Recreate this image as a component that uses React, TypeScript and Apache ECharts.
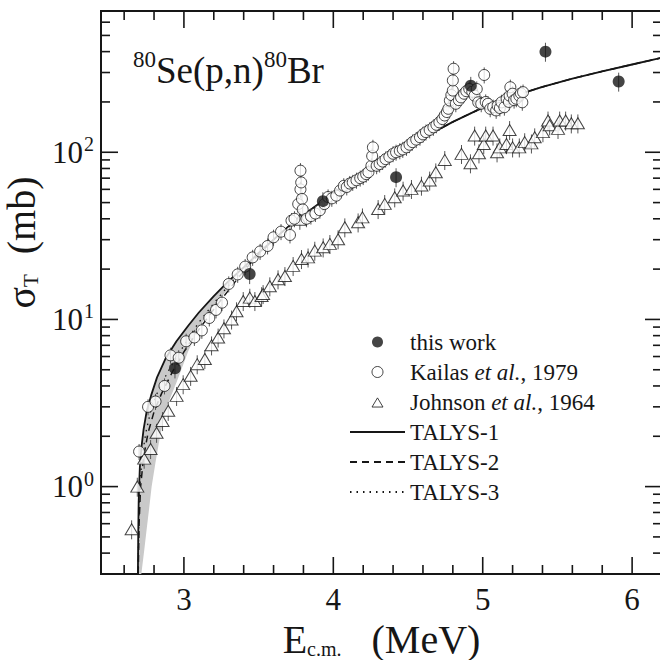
import React, { useEffect, useRef } from 'react';
import * as echarts from 'echarts';

const X_MIN = 2.445;
const X_MAX = 6.2;
const Y_MIN = 0.3;
const Y_MAX = 700;

const FONT = 'Liberation Serif';
const INK = '#161616';

// this work (filled circles)
const thisWork = [[2.94, 5.1], [3.44, 18.7], [3.93, 51], [4.42, 71], [4.92, 250], [5.42, 400], [5.91, 265]];

// Kailas et al., 1979 (open circles)
const kailas = [
  [2.70, 1.62], [2.76, 3.0], [2.81, 3.23], [2.87, 4.0], [2.91, 6.1], [2.965, 5.9], [3.015, 7.4], [3.07, 7.8],
  [3.12, 8.6], [3.17, 10.2], [3.215, 11.4], [3.255, 12.6], [3.30, 16.3], [3.36, 18.6], [3.41, 20.7], [3.46, 23.5],
  [3.51, 25.5], [3.56, 27.5], [3.60, 31], [3.65, 33.5], [3.71, 32], [3.72, 39], [3.74, 40], [3.765, 49],
  [3.78, 60], [3.785, 66], [3.78, 77.6], [3.79, 52.6], [3.795, 45.5], [3.82, 40], [3.85, 41.5], [3.88, 43],
  [3.91, 45], [3.94, 49], [3.965, 54], [3.99, 53], [4.02, 55], [4.045, 59], [4.07, 63], [4.09, 62],
  [4.11, 65], [4.13, 66], [4.155, 68], [4.18, 70], [4.2, 71.5], [4.22, 74], [4.235, 76], [4.255, 83],
  [4.26, 95], [4.265, 107], [4.29, 83], [4.31, 85], [4.33, 88], [4.35, 91], [4.375, 94], [4.40, 98],
  [4.42, 100], [4.445, 102], [4.465, 104], [4.49, 107], [4.51, 111], [4.53, 115], [4.555, 119], [4.58, 123],
  [4.60, 128], [4.62, 132], [4.645, 136], [4.67, 141], [4.69, 146], [4.71, 151], [4.73, 158], [4.745, 166],
  [4.76, 174], [4.77, 182], [4.78, 204], [4.79, 220], [4.80, 234], [4.80, 269], [4.805, 316], [4.82, 195],
  [4.84, 205], [4.855, 213], [4.875, 224], [4.89, 232], [4.91, 239], [4.93, 230], [4.945, 218], [4.96, 239],
  [4.97, 199], [4.99, 195], [5.01, 290], [5.02, 200], [5.035, 195], [5.05, 182], [5.07, 186], [5.09, 178],
  [5.10, 190], [5.115, 184], [5.125, 199], [5.145, 186], [5.16, 209], [5.175, 200], [5.18, 218], [5.185, 245],
  [5.20, 224], [5.21, 205], [5.225, 209], [5.245, 218], [5.255, 225], [5.265, 199], [5.27, 229]
];

// Johnson et al., 1964 (open triangles)
const johnson = [
  [2.65, 0.556], [2.688, 1.0], [2.734, 1.47], [2.777, 1.68], [2.817, 2.1], [2.857, 2.47], [2.895, 2.84],
  [2.951, 3.49], [2.995, 4.1], [3.045, 4.6], [3.089, 5.4], [3.14, 5.8], [3.185, 7.0], [3.229, 7.8],
  [3.268, 8.85], [3.319, 10.0], [3.352, 11.2], [3.397, 12.9], [3.441, 13.5], [3.475, 12.9], [3.52, 13.8],
  [3.53, 14.2], [3.575, 15.8], [3.63, 17.4], [3.676, 18.2], [3.731, 20.9], [3.776, 39.5], [3.787, 23],
  [3.831, 23.5], [3.876, 25.8], [3.932, 27], [3.977, 28.3], [4.032, 30.2], [4.077, 35.6], [4.166, 38.1],
  [4.195, 40.8], [4.3, 45.8], [4.344, 49.1], [4.411, 53.8], [4.467, 59], [4.523, 60.4], [4.59, 63.2],
  [4.645, 67.8], [4.686, 75.9], [4.746, 90], [4.858, 97.8], [4.918, 86], [4.946, 126], [4.975, 98.6],
  [5.007, 112], [5.02, 126], [5.069, 126], [5.096, 100], [5.114, 107], [5.159, 112], [5.18, 136], [5.2, 107],
  [5.245, 107], [5.281, 115], [5.326, 113], [5.348, 123], [5.403, 132], [5.437, 155], [5.448, 145],
  [5.504, 138], [5.515, 155], [5.555, 155], [5.593, 149], [5.637, 149]
];

// relative uncertainties
const thisWorkErr = 0.13;
const kailasErr = 0.11;
const johnsonErr = 0.13;

// TALYS calculations
const talys1 = [
  [2.692, 0.3], [2.694, 0.5], [2.697, 0.8], [2.70, 1.0], [2.705, 1.3], [2.715, 1.7], [2.73, 2.2], [2.75, 2.8],
  [2.78, 3.5], [2.82, 4.5], [2.88, 5.9], [2.95, 7.4], [3.03, 9.2], [3.1, 11.0], [3.2, 13.8], [3.3, 17],
  [3.4, 20.5], [3.5, 25], [3.6, 30], [3.7, 36], [3.8, 42], [3.9, 49], [4.0, 57], [4.2, 75], [4.4, 96],
  [4.6, 122], [4.8, 152], [5.0, 185], [5.2, 216], [5.4, 246], [5.6, 276], [5.8, 305], [6.0, 335], [6.2, 368]
];
const talys2 = [
  [2.694, 0.3], [2.70, 0.6], [2.71, 1.0], [2.73, 1.5], [2.76, 2.1], [2.8, 2.8], [2.85, 3.6], [2.92, 4.8],
  [3.0, 6.4], [3.1, 8.7], [3.2, 11.5], [3.3, 15], [3.4, 19.5], [3.5, 24.5], [3.6, 30], [3.7, 36], [3.8, 42],
  [3.9, 49], [4.0, 57], [4.2, 75], [4.4, 96], [4.6, 122], [4.8, 152], [5.0, 185], [5.2, 216], [5.4, 246],
  [5.6, 276], [5.8, 305], [6.0, 335], [6.2, 368]
];
const talys3 = [
  [2.693, 0.3], [2.698, 0.6], [2.705, 1.0], [2.72, 1.5], [2.745, 2.1], [2.78, 2.9], [2.83, 3.8], [2.9, 5.0],
  [3.0, 7.0], [3.1, 9.6], [3.2, 12.5], [3.3, 16], [3.4, 20], [3.5, 24.8], [3.6, 30], [3.7, 36], [3.8, 42],
  [3.9, 49], [4.0, 57], [4.2, 75], [4.4, 96], [4.6, 122], [4.8, 152], [5.0, 185], [5.2, 216], [5.4, 246],
  [5.6, 276], [5.8, 305], [6.0, 335], [6.2, 368]
];

// grey uncertainty band of the calculations near threshold
const bandUpper = [
  [2.692, 0.3], [2.694, 0.5], [2.697, 0.8], [2.70, 1.0], [2.705, 1.3], [2.715, 1.7], [2.73, 2.2], [2.75, 2.8],
  [2.78, 3.5], [2.82, 4.5], [2.88, 5.9], [2.95, 7.4], [3.03, 9.2], [3.1, 11.0], [3.2, 13.8], [3.3, 17], [3.375, 19.6]
];
const bandLower = [
  [2.715, 0.3], [2.735, 0.42], [2.75, 0.55], [2.768, 0.75], [2.784, 1.0], [2.81, 1.4], [2.84, 2.0], [2.885, 3.0],
  [2.95, 4.2], [3.03, 6.5], [3.107, 9.2], [3.2, 12], [3.29, 15], [3.375, 19.6]
];

// axis ticks and labels
const xTickLabels = [3, 4, 5, 6];
const xMajorTicks = [3, 4, 5, 6];
const xMinorTicks = [2.6, 2.8, 3.2, 3.4, 3.6, 3.8, 4.2, 4.4, 4.6, 4.8, 5.2, 5.4, 5.6, 5.8];
const yMajorTicks = [1, 10, 100];
const yMinorTicks = [0.4, 0.5, 0.6, 0.7, 0.8, 0.9, 2, 3, 4, 5, 6, 7, 8, 9, 20, 30, 40, 50, 60, 70, 80, 90, 200, 300, 400, 500, 600];

const MAJOR_LEN = 17;
const MINOR_LEN = 9;

function errorBarSeries(data: number[][], err: number) {
  return {
    type: 'custom',
    coordinateSystem: 'cartesian2d',
    data,
    z: 4,
    silent: true,
    clip: false,
    renderItem: (_p: any, api: any) => {
      const e = api.value(0);
      const s = api.value(1);
      const a = api.coord([e, s * (1 - err)]);
      const b = api.coord([e, s * (1 + err)]);
      return {
        type: 'line',
        shape: { x1: a[0], y1: a[1], x2: b[0], y2: b[1] },
        style: { stroke: '#555', lineWidth: 1 },
      };
    },
  };
}

export default function App() {
  const ref = useRef<HTMLDivElement>(null);

  useEffect(() => {
    if (!ref.current) return;
    const chart = echarts.init(ref.current, null, { renderer: 'svg' });

    const yTickData = [
      ...yMajorTicks.map((v) => [X_MIN, v, MAJOR_LEN]),
      ...yMinorTicks.map((v) => [X_MIN, v, MINOR_LEN]),
    ];
    const xTickData = [
      ...xMajorTicks.map((v) => [v, Y_MIN, MAJOR_LEN]),
      ...xMinorTicks.map((v) => [v, Y_MIN, MINOR_LEN]),
    ];

    const lineItemStyle = { color: INK, opacity: 0 };

    const option: any = {
      animation: false,
      backgroundColor: '#ffffff',
      textStyle: { fontFamily: FONT, color: INK },
      grid: {
        left: 101,
        top: 11,
        width: 561,
        height: 563,
        containLabel: false,
        outerBoundsMode: 'none',
        show: true,
        borderColor: INK,
        borderWidth: 2,
        backgroundColor: 'transparent',
      },
      xAxis: {
        type: 'value',
        min: X_MIN,
        max: X_MAX,
        axisLine: { show: false },
        axisTick: { show: false },
        splitLine: { show: false },
        axisLabel: {
          customValues: xTickLabels,
          margin: 10,
          fontSize: 31,
          fontFamily: FONT,
          color: INK,
        },
        name: '{g|E}{sub|c.m.}{g|   (MeV)}',
        nameLocation: 'middle',
        nameGap: 24,
        nameTextStyle: {
          fontFamily: FONT,
          rich: {
            g: { fontSize: 40, fontFamily: FONT, color: INK, lineHeight: 38 },
            sub: { fontSize: 20, fontFamily: FONT, color: INK, lineHeight: 16, verticalAlign: 'bottom' },
          },
        },
      },
      yAxis: {
        type: 'log',
        logBase: 10,
        min: Y_MIN,
        max: Y_MAX,
        axisLine: { show: false },
        axisTick: { show: false },
        splitLine: { show: false },
        minorTick: { show: false },
        axisLabel: {
          margin: 7,
          showMinLabel: false,
          showMaxLabel: false,
          fontFamily: FONT,
          formatter: (v: number) => {
            const lg = Math.log10(v);
            const r = Math.round(lg);
            if (Math.abs(lg - r) > 1e-6) return '';
            if (!yMajorTicks.some((t) => Math.abs(t - v) < 1e-9)) return '';
            return '{b|10}{s|' + r + '}';
          },
          rich: {
            b: { fontSize: 31, fontFamily: FONT, color: INK, lineHeight: 36 },
            s: { fontSize: 20, fontFamily: FONT, color: INK, lineHeight: 20, verticalAlign: 'top', padding: [0, 0, 0, 1] },
          },
        },
        name: '{g|σ}{sub|T}{g|  (mb)}',
        nameLocation: 'middle',
        nameRotate: 90,
        nameGap: 41,
        nameTextStyle: {
          fontFamily: FONT,
          padding: [0, 0, 0, 100],
          rich: {
            g: { fontSize: 40, fontFamily: FONT, color: INK, lineHeight: 40 },
            sub: { fontSize: 21, fontFamily: FONT, color: INK, lineHeight: 21, verticalAlign: 'bottom' },
          },
        },
      },
      legend: {
        data: [
          { name: 'this work', icon: 'circle' },
          { name: 'Kailas et al., 1979', icon: 'circle' },
          { name: 'Johnson et al., 1964', icon: 'path://M0,0M55,12M27.5,1.5L33.5,11.5L21.5,11.5Z' },
          { name: 'TALYS-1' },
          { name: 'TALYS-2' },
          { name: 'TALYS-3' },
        ],
        orient: 'vertical',
        left: 344,
        top: 325,
        itemWidth: 55,
        itemHeight: 11,
        itemGap: 6,
        padding: 5,
        selectedMode: false,
        symbolKeepAspect: true,
        itemStyle: { borderWidth: 1 },
        textStyle: {
          fontFamily: FONT,
          fontSize: 23,
          color: INK,
          lineHeight: 24,
          rich: {
            i: { fontFamily: FONT, fontSize: 23, fontStyle: 'italic', color: INK, lineHeight: 24 },
          },
        },
        formatter: (name: string) => name.replace('et al.', '{i|et al.}'),
      },
      graphic: [
        {
          type: 'text',
          left: 133,
          top: 48,
          style: {
            text: '{s|80}{m|Se(p,n)}{s|80}{m|Br}',
            fontFamily: FONT,
            rich: {
              s: { fontSize: 23, fontFamily: FONT, fill: INK, lineHeight: 23, verticalAlign: 'top' },
              m: { fontSize: 37, fontFamily: FONT, fill: INK, lineHeight: 44 },
            },
          },
        },
      ],
      series: [
        {
          type: 'custom',
          name: 'band',
          coordinateSystem: 'cartesian2d',
          data: bandLower,
          z: 1,
          silent: true,
          clip: false,
          renderItem: (params: any, api: any) => {
            if (params.dataIndex !== 0) return null;
            const pts = [
              ...bandUpper.map((p) => api.coord(p)),
              ...bandLower.slice().reverse().map((p) => api.coord(p)),
            ];
            return { type: 'polygon', shape: { points: pts }, style: { fill: '#c9c9c9' } };
          },
        },
        {
          type: 'line',
          name: 'TALYS-1',
          data: talys1,
          symbol: 'none',
          showSymbol: false,
          z: 2,
          lineStyle: { color: INK, width: 1.8, type: 'solid' },
          itemStyle: lineItemStyle,
        },
        {
          type: 'line',
          name: 'TALYS-2',
          data: talys2,
          symbol: 'none',
          showSymbol: false,
          z: 2,
          lineStyle: { color: INK, width: 1.5, type: [7, 5] },
          itemStyle: lineItemStyle,
        },
        {
          type: 'line',
          name: 'TALYS-3',
          data: talys3,
          symbol: 'none',
          showSymbol: false,
          z: 2,
          lineStyle: { color: INK, width: 1.3, type: [1.5, 5] },
          itemStyle: lineItemStyle,
        },
        errorBarSeries(johnson, johnsonErr),
        errorBarSeries(kailas, kailasErr),
        errorBarSeries(thisWork, thisWorkErr),
        {
          type: 'scatter',
          name: 'Johnson et al., 1964',
          data: johnson,
          symbol: 'triangle',
          symbolSize: [13, 11],
          z: 5,
          itemStyle: { color: '#ffffff', borderColor: INK, borderWidth: 1 },
        },
        {
          type: 'scatter',
          name: 'Kailas et al., 1979',
          data: kailas,
          symbol: 'circle',
          symbolSize: 11,
          z: 6,
          itemStyle: { color: '#ffffff', borderColor: INK, borderWidth: 1 },
        },
        {
          type: 'scatter',
          name: 'this work',
          data: thisWork,
          symbol: 'circle',
          symbolSize: 12,
          z: 7,
          itemStyle: { color: INK },
        },
        {
          type: 'custom',
          name: 'yTicks',
          coordinateSystem: 'cartesian2d',
          data: yTickData,
          z: 20,
          silent: true,
          clip: false,
          renderItem: (_p: any, api: any) => {
            const v = api.value(1);
            const len = api.value(2);
            const l = api.coord([X_MIN, v]);
            const r = api.coord([X_MAX, v]);
            return {
              type: 'group',
              children: [
                { type: 'line', shape: { x1: l[0], y1: l[1], x2: l[0] + len, y2: l[1] }, style: { stroke: INK, lineWidth: 1.6 } },
                { type: 'line', shape: { x1: r[0] - len, y1: r[1], x2: r[0], y2: r[1] }, style: { stroke: INK, lineWidth: 1.6 } },
              ],
            };
          },
        },
        {
          type: 'custom',
          name: 'xTicks',
          coordinateSystem: 'cartesian2d',
          data: xTickData,
          z: 20,
          silent: true,
          clip: false,
          renderItem: (_p: any, api: any) => {
            const v = api.value(0);
            const len = api.value(2);
            const b = api.coord([v, Y_MIN]);
            const t = api.coord([v, Y_MAX]);
            return {
              type: 'group',
              children: [
                { type: 'line', shape: { x1: b[0], y1: b[1], x2: b[0], y2: b[1] - len }, style: { stroke: INK, lineWidth: 1.6 } },
                { type: 'line', shape: { x1: t[0], y1: t[1], x2: t[0], y2: t[1] + len }, style: { stroke: INK, lineWidth: 1.6 } },
              ],
            };
          },
        },
      ],
    };

    chart.setOption(option);
    return () => chart.dispose();
  }, []);

  return (
    <div
      ref={ref}
      style={{ position: 'absolute', left: 0, top: 0, width: 660, height: 660, background: '#fff' }}
    />
  );
}
